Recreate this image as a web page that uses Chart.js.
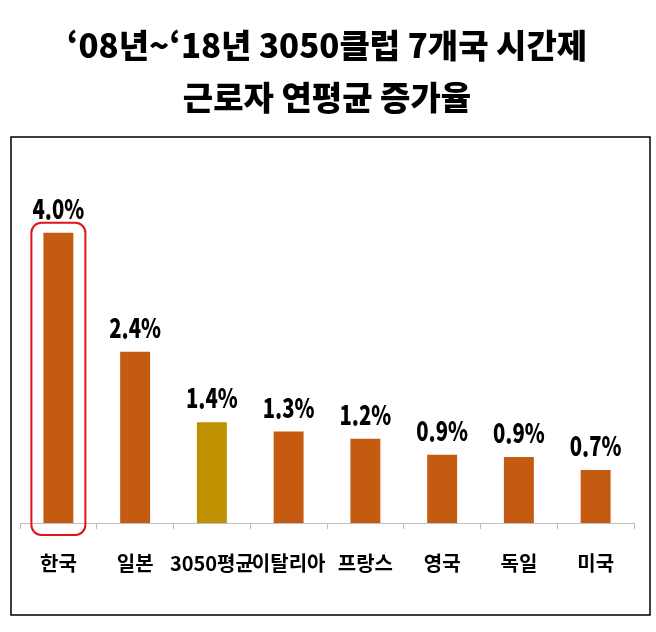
<!DOCTYPE html>
<html lang="ko">
<head>
<meta charset="utf-8">
<script src="https://cdn.jsdelivr.net/npm/chart.js@4"></script>
<style>
    html, body { margin: 0; padding: 0; background: #fff; }
    #wrap { width: 656px; height: 632px; }
</style>
</head>
<body>
<div id="wrap"><canvas id="chart"></canvas></div>
<script>
const titleLines = ['\u201808년~\u201818년 3050클럽 7개국 시간제', '근로자 연평균 증가율'];
const categories = ['한국', '일본', '3050평균', '이탈리아', '프랑스', '영국', '독일', '미국'];
const rates = [4.0, 2.36, 1.39, 1.26, 1.16, 0.94, 0.91, 0.73];
const averageLabel = '3050평균';
const highlightLabel = '한국';

const ORANGE = '#C55A11';
const GOLD = '#BF9000';

// value labels above each bar (squeezed a bit to look condensed)
const valueLabels = {
    id: 'valueLabels',
    afterDatasetsDraw(chart) {
        const ctx = chart.ctx;
        const meta = chart.getDatasetMeta(0);
        ctx.save();
        ctx.fillStyle = '#000';
        ctx.font = '900 27px "Noto Sans CJK KR", sans-serif';
        ctx.textAlign = 'center';
        ctx.textBaseline = 'alphabetic';
        meta.data.forEach((bar, i) => {
            ctx.save();
            ctx.translate(bar.x, bar.y - 14);
            ctx.scale(0.75, 1);
            ctx.fillText(rates[i].toFixed(1) + '%', 0, 0);
            ctx.restore();
        });
        ctx.restore();
    }
};

// outer frame and red box round the highlighted bar
const frameAndMark = {
    id: 'frameAndMark',
    afterDraw(chart) {
        const ctx = chart.ctx;
        ctx.save();
        ctx.strokeStyle = '#000';
        ctx.lineWidth = 1.5;
        ctx.strokeRect(11, 137, 639, 478);

        const idx = categories.indexOf(highlightLabel);
        const bar = chart.getDatasetMeta(0).data[idx];
        if (bar) {
            const base = chart.scales.y.getPixelForValue(0);
            ctx.strokeStyle = '#E0141E';
            ctx.lineWidth = 2;
            ctx.beginPath();
            ctx.roundRect(bar.x - 27, bar.y - 10, 54, base - bar.y + 22, 10);
            ctx.stroke();
        }
        ctx.restore();
    }
};

new Chart(document.getElementById('chart'), {
    type: 'bar',
    data: {
        labels: categories,
        datasets: [{
            data: rates,
            backgroundColor: categories.map(c => c === averageLabel ? GOLD : ORANGE),
            borderWidth: 0,
            categoryPercentage: 1,
            barPercentage: 0.39
        }]
    },
    options: {
        responsive: true,
        maintainAspectRatio: false,
        animation: false,
        layout: { padding: { left: 20, right: 22, top: 0, bottom: 35 } },
        plugins: {
            legend: { display: false },
            tooltip: { enabled: false },
            title: {
                display: true,
                text: titleLines,
                color: '#000',
                font: { family: '"Noto Sans CJK KR", sans-serif', size: 33, weight: '900', lineHeight: 1.58 },
                padding: { top: 19, bottom: 37 }
            }
        },
        scales: {
            x: {
                border: { display: true, color: '#BFBFBF', width: 1 },
                grid: { display: true, drawOnChartArea: false, drawTicks: true, tickLength: 6, color: '#BFBFBF', offset: true },
                ticks: {
                    color: '#000',
                    autoSkip: false,
                    maxRotation: 0,
                    minRotation: 0,
                    padding: 22,
                    font: { family: '"Noto Sans CJK KR", sans-serif', size: 20, weight: 'bold' }
                }
            },
            y: {
                display: false,
                min: 0,
                max: 5
            }
        }
    },
    plugins: [valueLabels, frameAndMark]
});
</script>
</body>
</html>
